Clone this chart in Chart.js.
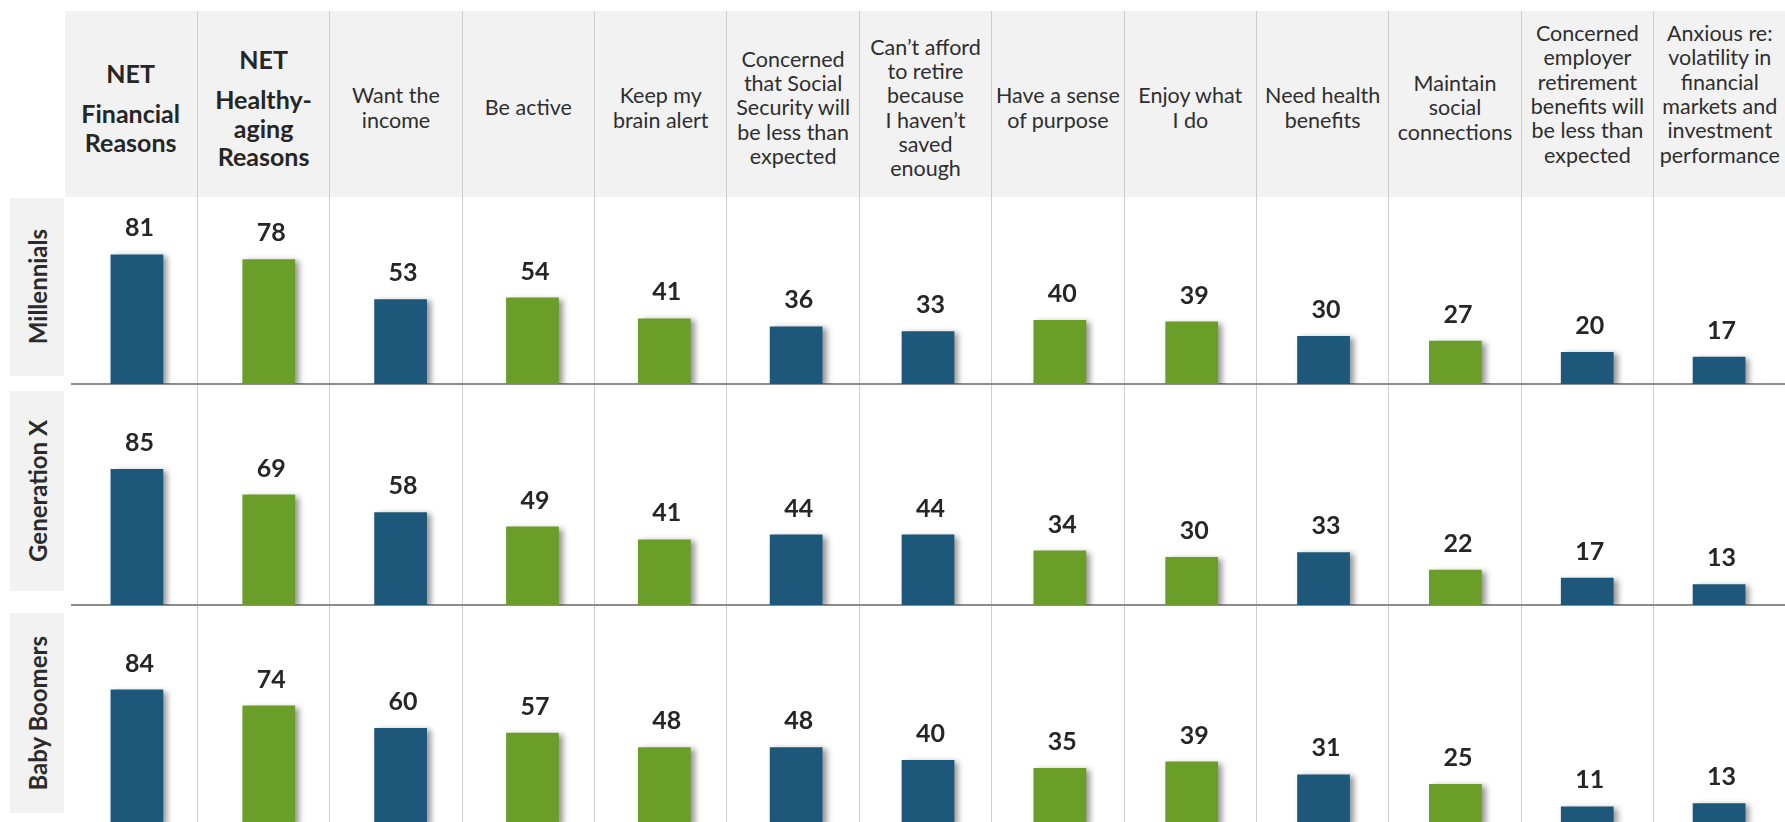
<!DOCTYPE html>
<html>
<head>
	<title>Reasons for Working in Retirement by Generation</title>
	<meta charset="UTF-8">
	<script src="https://cdn.jsdelivr.net/npm/chart.js"></script>
	<style type="text/css">
		html, body {
			margin: 0;
			padding: 0;
			width: 1785px;
			height: 822px;
			overflow: hidden;
			background: #fff;
			font-family: Lato, "Open Sans", sans-serif;
		}
		.columns {
			position: absolute;
			left: 64.5px;
			top: 11px;
			width: 1721px;
			height: 811px;
			display: grid;
			grid-template-columns: repeat(13, 1fr);
		}
		.col {
			border-left: 1px solid #cccccc;
			height: 100%;
		}
		.col:first-child {
			border-left: none;
		}
		.head {
			height: 186px;
			background: #f2f2f2;
			display: flex;
			flex-direction: column;
			align-items: center;
			justify-content: center;
			text-align: center;
			box-sizing: border-box;
			padding-top: 7px;
			color: #2e2e2e;
			font-size: 21.5px;
			line-height: 24.3px;
			white-space: nowrap;
		}
		.head.high {
			padding-top: 0;
			padding-bottom: 20px;
		}
		.head .net {
			font-weight: bold;
			font-size: 25px;
			line-height: 28.5px;
			color: #262626;
			margin-bottom: 12px;
		}
		.head .bold {
			font-weight: bold;
			font-size: 25px;
			line-height: 28.5px;
			color: #262626;
		}
		.gen {
			position: absolute;
			left: 10px;
			width: 54px;
			background: #f2f2f2;
			display: flex;
			align-items: center;
			justify-content: center;
		}
		.gen span {
			writing-mode: vertical-rl;
			transform: rotate(180deg);
			font-weight: bold;
			font-size: 24px;
			color: #2b2b2b;
			white-space: nowrap;
		}
		.chart-box {
			position: absolute;
			left: 71px;
			width: 1714px;
		}
	</style>
</head>
<body>
	<div class="columns" id="columns"></div>
	<div class="gen" style="top: 198px; height: 178px;"><span id="gen0"></span></div>
	<div class="gen" style="top: 391px; height: 200px;"><span id="gen1"></span></div>
	<div class="gen" style="top: 613px; height: 200px;"><span id="gen2"></span></div>
	<div class="chart-box" style="top: 197px; height: 189px;"><canvas id="chart0"></canvas></div>
	<div class="chart-box" style="top: 385px; height: 222px;"><canvas id="chart1"></canvas></div>
	<div class="chart-box" style="top: 609px; height: 217px;"><canvas id="chart2"></canvas></div>
	<script type="text/javascript">
// header text, one entry per column, one string per line
var categories = [
  ["NET", "Financial", "Reasons"],
  ["NET", "Healthy-", "aging", "Reasons"],
  ["Want the", "income"],
  ["Be active"],
  ["Keep my", "brain alert"],
  ["Concerned", "that Social", "Security will", "be less than", "expected"],
  ["Can\u2019t afford", "to retire", "because", "I haven\u2019t", "saved", "enough"],
  ["Have a sense", "of purpose"],
  ["Enjoy what", "I do"],
  ["Need health", "benefits"],
  ["Maintain", "social", "connections"],
  ["Concerned", "employer", "retirement", "benefits will", "be less than", "expected"],
  ["Anxious re:", "volatility in", "financial", "markets and", "investment", "performance"]
];

// F = financial reason, H = healthy-aging reason
var reasonType = ["F", "H", "F", "H", "H", "F", "F", "H", "H", "F", "H", "F", "F"];

var generations = ["Millennials", "Generation X", "Baby Boomers"];

var millennials = [81, 78, 53, 54, 41, 36, 33, 40, 39, 30, 27, 20, 17];
var genX        = [85, 69, 58, 49, 41, 44, 44, 34, 30, 33, 22, 17, 13];
var boomers     = [84, 74, 60, 57, 48, 48, 40, 35, 39, 31, 25, 11, 13];

var seriesByRow = [millennials, genX, boomers];

var BLUE = '#1d577a';
var GREEN = '#6b9e28';
var PX_PER_POINT = 1.6;

// build header + column dividers
var cols = document.getElementById("columns");
categories.forEach(function(lines, i) {
  var col = document.createElement("div");
  col.className = "col";
  var head = document.createElement("div");
  head.className = "head" + (i >= 11 ? " high" : "");
  lines.forEach(function(line, j) {
    var el = document.createElement("div");
    el.textContent = line;
    if (lines[0] === "NET") {
      el.className = j === 0 ? "net" : "bold";
    }
    head.appendChild(el);
  });
  col.appendChild(head);
  cols.appendChild(col);
});

generations.forEach(function(g, i) {
  document.getElementById("gen" + i).textContent = g;
});

// shadow on the bars
var barShadow = {
  id: 'barShadow',
  beforeDatasetsDraw: function(chart) {
    var c = chart.ctx;
    c.save();
    c.shadowColor = 'rgba(0, 0, 0, 0.42)';
    c.shadowBlur = 6;
    c.shadowOffsetX = 4;
    c.shadowOffsetY = 2;
  },
  afterDatasetsDraw: function(chart) {
    chart.ctx.restore();
  }
};

// numbers above each bar
var valueLabels = {
  id: 'valueLabels',
  afterDatasetsDraw: function(chart) {
    var c = chart.ctx;
    var meta = chart.getDatasetMeta(0);
    var values = chart.data.datasets[0].data;
    c.save();
    c.font = 'bold 25px Lato, "Open Sans", sans-serif';
    c.fillStyle = '#262626';
    c.textAlign = 'center';
    c.textBaseline = 'alphabetic';
    meta.data.forEach(function(bar, i) {
      c.fillText(values[i], bar.x + 2.5, bar.y - 18);
    });
    c.restore();
  }
};

var labels = categories.map(function(l) { return l.join(" "); });
var colors = reasonType.map(function(t) { return t === "F" ? BLUE : GREEN; });

seriesByRow.forEach(function(values, r) {
  var canvas = document.getElementById("chart" + r);
  var plotHeight = canvas.parentNode.clientHeight - 2;
  new Chart(canvas.getContext("2d"), {
    type: 'bar',
    data: {
      labels: labels,
      datasets: [{
        label: generations[r],
        data: values,
        backgroundColor: colors,
        borderWidth: 0,
        categoryPercentage: 1,
        barPercentage: 0.4
      }]
    },
    options: {
      responsive: true,
      maintainAspectRatio: false,
      animation: false,
      layout: { padding: { top: 0, bottom: 2, left: 0, right: 0 } },
      plugins: {
        legend: { display: false },
        tooltip: { enabled: false }
      },
      scales: {
        x: {
          grid: { display: false, drawTicks: false },
          border: { display: true, color: '#8c8c8c', width: 2 },
          ticks: { display: false }
        },
        y: {
          display: false,
          min: 0,
          max: plotHeight / PX_PER_POINT
        }
      }
    },
    plugins: [barShadow, valueLabels]
  });
});
</script>
</body>
</html>
